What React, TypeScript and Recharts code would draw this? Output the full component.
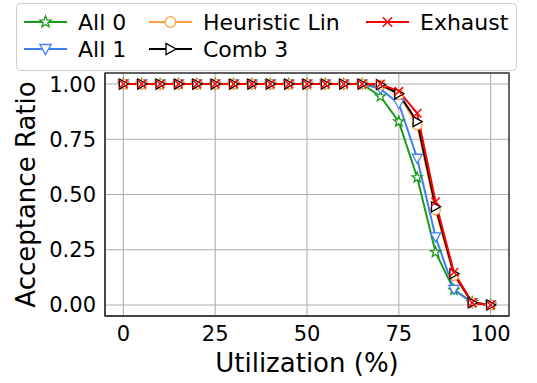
import React from 'react';
import { LineChart, Line, XAxis, YAxis, CartesianGrid, ReferenceArea } from 'recharts';

const utilization = [0, 5, 10, 15, 20, 25, 30, 35, 40, 45, 50, 55, 60, 65, 70, 75, 80, 85, 90, 95, 100];
const all0 = [1, 1, 1, 1, 1, 1, 1, 1, 1, 1, 1, 1, 1, 1, 0.944, 0.83, 0.577, 0.239, 0.068, 0.012, 0];
const all1 = [1, 1, 1, 1, 1, 1, 1, 1, 1, 1, 1, 1, 1, 1, 0.978, 0.912, 0.664, 0.308, 0.07, 0.01, 0];
const heuristicLin = [1, 1, 1, 1, 1, 1, 1, 1, 1, 1, 1, 1, 1, 1, 0.996, 0.952, 0.815, 0.43, 0.133, 0.01, 0];
const comb3 = [1, 1, 1, 1, 1, 1, 1, 1, 1, 1, 1, 1, 1, 1, 0.997, 0.956, 0.83, 0.444, 0.141, 0.01, 0];
const exhaust = [1, 1, 1, 1, 1, 1, 1, 1, 1, 1, 1, 1, 1, 1, 1.0, 0.967, 0.868, 0.467, 0.148, 0.01, 0];

const xTicks = [0, 25, 50, 75, 100];
const yTicks = [0, 0.25, 0.5, 0.75, 1];

const data = utilization.map((u, i) => ({
  u,
  all0: all0[i],
  all1: all1[i],
  heuristicLin: heuristicLin[i],
  comb3: comb3[i],
  exhaust: exhaust[i],
}));

const FONT = '"DejaVu Sans", sans-serif';
const C_GREEN = '#1a9a1a';
const C_BLUE = '#3f7ef5';
const C_ORANGE = '#ffa040';
const C_BLACK = '#000000';
const C_RED = '#ff0000';
const C_FRAME = '#3a3a3a';

type MK = 'star' | 'tri_down' | 'circle' | 'tri_right' | 'x';

function Marker({ cx, cy, color, kind, s = 1 }: { cx: number; cy: number; color: string; kind: MK; s?: number }) {
  const sw = 1.3;
  if (kind === 'star') {
    const pts: string[] = [];
    for (let i = 0; i < 10; i++) {
      const r = (i % 2 === 0 ? 6 : 2.5) * s;
      const a = -Math.PI / 2 + (i * Math.PI) / 5;
      pts.push(`${cx + r * Math.cos(a)},${cy + r * Math.sin(a)}`);
    }
    return <polygon points={pts.join(' ')} fill="#fff" stroke={color} strokeWidth={sw} />;
  }
  if (kind === 'tri_down') {
    const a = 5.6 * s;
    return (
      <polygon
        points={`${cx - a},${cy - a * 0.8} ${cx + a},${cy - a * 0.8} ${cx},${cy + a}`}
        fill="#fff"
        stroke={color}
        strokeWidth={sw}
      />
    );
  }
  if (kind === 'tri_right') {
    const a = 5.6 * s;
    return (
      <polygon
        points={`${cx - a * 0.8},${cy - a} ${cx - a * 0.8},${cy + a} ${cx + a},${cy}`}
        fill="#fff"
        stroke={color}
        strokeWidth={sw}
      />
    );
  }
  if (kind === 'circle') {
    return <circle cx={cx} cy={cy} r={5.3 * s} fill="#fff" stroke={color} strokeWidth={sw} />;
  }
  const d = 4.7 * s;
  return (
    <g stroke={color} strokeWidth={sw + 0.2}>
      <line x1={cx - d} y1={cy - d} x2={cx + d} y2={cy + d} />
      <line x1={cx - d} y1={cy + d} x2={cx + d} y2={cy - d} />
    </g>
  );
}

const makeDot = (kind: MK, color: string, prefix: string) => (p: any) => {
  if (p == null || p.cx == null || p.cy == null) return <g key={`${prefix}-${p?.index}`} />;
  return (
    <g key={`${prefix}-${p.index}`}>
      <Marker cx={p.cx} cy={p.cy} color={color} kind={kind} s={0.9} />
    </g>
  );
};

const legendItems: { label: string; color: string; kind: MK; x: number; y: number }[] = [
  { label: 'All 0', color: C_GREEN, kind: 'star', x: 24, y: 22 },
  { label: 'All 1', color: C_BLUE, kind: 'tri_down', x: 24, y: 49 },
  { label: 'Heuristic Lin', color: C_ORANGE, kind: 'circle', x: 149, y: 22 },
  { label: 'Comb 3', color: C_BLACK, kind: 'tri_right', x: 149, y: 49 },
  { label: 'Exhaust', color: C_RED, kind: 'x', x: 366, y: 22 },
];

const YLabel = (props: any) => {
  const vb = props.viewBox || { x: 0, y: 73, width: 105, height: 243 };
  const cx = vb.x + 35;
  const cy = vb.y + vb.height / 2;
  return (
    <text
      transform={`translate(${cx}, ${cy}) rotate(-90)`}
      textAnchor="middle"
      fontFamily={FONT}
      fontSize={26}
      fill="#000"
    >
      Acceptance Ratio
    </text>
  );
};

export default function App() {
  return (
    <div style={{ position: 'absolute', left: 0, top: 0, width: 537, height: 383, background: '#fff' }}>
      <LineChart
        width={537}
        height={383}
        data={data}
        margin={{ top: 73, right: 28, bottom: 0, left: 0 }}
      >
        <CartesianGrid stroke="#b0b0b0" strokeWidth={1.1} />
        <XAxis
          dataKey="u"
          type="number"
          domain={[-5, 105]}
          ticks={xTicks}
          allowDataOverflow
          height={67}
          tickSize={0}
          tickMargin={10}
          tickLine={false}
          axisLine={{ stroke: C_FRAME, strokeWidth: 1.4 }}
          tick={{ fontFamily: FONT, fontSize: 21, fill: '#000' }}
          label={{
            value: 'Utilization (%)',
            position: 'insideBottom',
            offset: 11,
            style: { fontFamily: FONT, fontSize: 26, fill: '#000' },
          }}
        />
        <YAxis
          type="number"
          domain={[-0.05, 1.05]}
          ticks={yTicks}
          allowDataOverflow
          width={105}
          tickSize={0}
          tickMargin={9}
          tickLine={false}
          axisLine={{ stroke: C_FRAME, strokeWidth: 1.4 }}
          tick={{ fontFamily: FONT, fontSize: 21, fill: '#000' }}
          tickFormatter={(v: number) => v.toFixed(2)}
          label={<YLabel />}
        />
        <ReferenceArea
          x1={-5}
          x2={105}
          y1={-0.05}
          y2={1.05}
          fill="none"
          fillOpacity={0}
          stroke={C_FRAME}
          strokeWidth={1.4}
          ifOverflow="visible"
        />
        <Line dataKey="all0" stroke={C_GREEN} strokeWidth={2} isAnimationActive={false} dot={makeDot('star', C_GREEN, 'a0')} activeDot={false} />
        <Line dataKey="all1" stroke={C_BLUE} strokeWidth={2} isAnimationActive={false} dot={makeDot('tri_down', C_BLUE, 'a1')} activeDot={false} />
        <Line dataKey="heuristicLin" stroke={C_ORANGE} strokeWidth={2} isAnimationActive={false} dot={makeDot('circle', C_ORANGE, 'hl')} activeDot={false} />
        <Line dataKey="comb3" stroke={C_BLACK} strokeWidth={2} isAnimationActive={false} dot={makeDot('tri_right', C_BLACK, 'c3')} activeDot={false} />
        <Line dataKey="exhaust" stroke={C_RED} strokeWidth={2} isAnimationActive={false} dot={makeDot('x', C_RED, 'ex')} activeDot={false} />
      </LineChart>
      <svg
        width={537}
        height={80}
        style={{ position: 'absolute', left: 0, top: 0, pointerEvents: 'none' }}
      >
        <rect x={16.5} y={3.5} width={500} height={67} rx={4} ry={4} fill="#fff" fillOpacity={0.85} stroke="#cccccc" strokeWidth={1} />
        {legendItems.map((it) => (
          <g key={it.label}>
            <line x1={it.x} y1={it.y} x2={it.x + 43} y2={it.y} stroke={it.color} strokeWidth={2} />
            <Marker cx={it.x + 21.5} cy={it.y} color={it.color} kind={it.kind} />
            <text x={it.x + 54} y={it.y + 8} fontFamily={FONT} fontSize={22} fill="#000">
              {it.label}
            </text>
          </g>
        ))}
      </svg>
    </div>
  );
}
